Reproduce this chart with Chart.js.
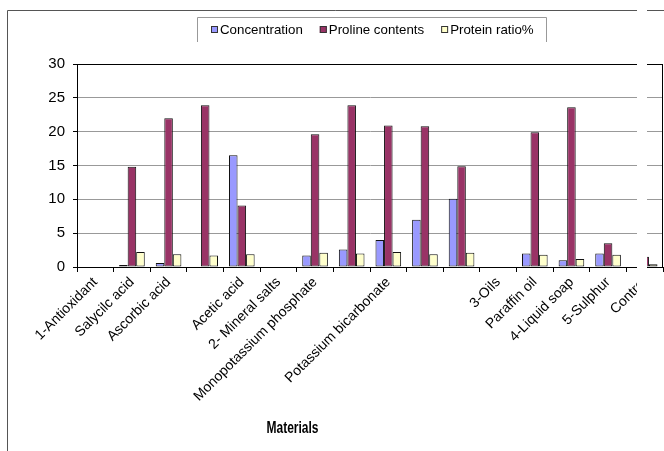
<!DOCTYPE html>
<html>
<head>
<meta charset="utf-8">
<script src="https://cdn.jsdelivr.net/npm/chart.js@4"></script>
<style>
  html, body { margin: 0; padding: 0; background: #fff; }
  canvas { display: block; }
</style>
</head>
<body>
<canvas id="materialsChart" width="664" height="451"></canvas>
<script>
// Materials on the x axis (empty strings are rows without a name)
const materials = [
    '1-Antioxidant', 'Salycilc acid', 'Ascorbic acid', '', 'Acetic acid',
    '2- Mineral salts', 'Monopotassium phosphate', '', 'Potassium bicarbonate',
    '', '', '3-Oils', 'Paraffin oil', '4-Liquid soap', '5-Sulphur', 'Control'
];

const concentration   = [null, 0.3, 0.6, null, 16.5, null, 1.7, 2.6, 4.0, 7.0, 10.1, null, 2.0, 1.0, 2.0, null];
const prolineContents = [null, 14.8, 22.0, 23.9, 9.1, null, 19.6, 23.9, 20.9, 20.8, 14.9, null, 19.9, 23.6, 3.5, 1.5];
const proteinRatio    = [null, 2.2, 1.9, 1.7, 1.9, null, 2.1, 2.0, 2.2, 1.9, 2.1, null, 1.8, 1.2, 1.8, 0.4];

const yTickValues = [0, 5, 10, 15, 20, 25, 30];

const FONT = "'Liberation Sans', Arial, sans-serif";
Chart.defaults.font.family = FONT;
Chart.defaults.color = '#000';

// White page with the thin frame on the top and left
const framePlugin = {
    id: 'frame',
    beforeDraw(chart) {
        const ctx = chart.ctx;
        ctx.save();
        ctx.fillStyle = '#fff';
        ctx.fillRect(0, 0, chart.width, chart.height);
        ctx.strokeStyle = '#555';
        ctx.lineWidth = 1;
        ctx.beginPath();
        ctx.moveTo(7.5, chart.height);
        ctx.lineTo(7.5, 10.5);
        ctx.lineTo(chart.width, 10.5);
        ctx.stroke();
        ctx.restore();
    },
    afterDatasetsDraw(chart) {
        // plot area border
        const a = chart.chartArea;
        const ctx = chart.ctx;
        ctx.save();
        ctx.strokeStyle = '#000';
        ctx.lineWidth = 1;
        ctx.strokeRect(Math.round(a.left) + 0.5, Math.round(a.top) + 0.5,
            Math.round(a.right - a.left) - 1, Math.round(a.bottom - a.top));
        ctx.restore();
    }
};

// Legend in an open-bottomed box above the plot
const legendBoxPlugin = {
    id: 'legendBox',
    afterDraw(chart) {
        const ctx = chart.ctx;
        const a = chart.chartArea;
        const sets = chart.data.datasets;
        const box = 7, gap = 2, spacing = 17, padL = 14, padR = 12;
        ctx.save();
        ctx.font = '13.3px ' + FONT;
        const widths = sets.map(ds => box + gap + ctx.measureText(ds.label).width);
        const total = widths.reduce((s, w) => s + w, 0) + spacing * (sets.length - 1);
        let x = Math.round((a.left + a.right) / 2 + 2 - total / 2);
        const left = x - padL, right = Math.round(x + total + padR);

        ctx.strokeStyle = '#999';
        ctx.lineWidth = 1;
        ctx.beginPath();
        ctx.moveTo(left + 0.5, 42);
        ctx.lineTo(left + 0.5, 17.5);
        ctx.lineTo(right + 0.5, 17.5);
        ctx.lineTo(right + 0.5, 42);
        ctx.stroke();

        ctx.textBaseline = 'middle';
        ctx.textAlign = 'left';
        sets.forEach((ds, i) => {
            ctx.fillStyle = ds.backgroundColor;
            ctx.fillRect(x, 26, box, box);
            ctx.strokeStyle = '#333';
            ctx.strokeRect(x + 0.5, 26.5, box - 1, box - 1);
            ctx.fillStyle = '#000';
            ctx.fillText(ds.label, x + box + gap, 30);
            x += widths[i] + spacing;
        });
        ctx.restore();
    }
};

// Axis title and the blank strip near the right edge
const overlayPlugin = {
    id: 'overlay',
    afterDraw(chart) {
        const ctx = chart.ctx;
        ctx.save();
        ctx.font = 'bold 16px ' + FONT;
        ctx.fillStyle = '#000';
        ctx.textAlign = 'center';
        ctx.textBaseline = 'alphabetic';
        // narrow bold face
        ctx.translate(292.5, 433);
        ctx.scale(0.75, 1);
        ctx.fillText('Materials', 0, 0);
        ctx.restore();

        ctx.save();
        ctx.fillStyle = '#fff';
        ctx.fillRect(637, 0, 10, chart.height);
        ctx.restore();
    }
};

new Chart(document.getElementById('materialsChart'), {
    type: 'bar',
    data: {
        labels: materials,
        datasets: [
            {
                label: 'Concentration',
                data: concentration,
                backgroundColor: '#9999FF'
            },
            {
                label: 'Proline contents',
                data: prolineContents,
                backgroundColor: '#993366'
            },
            {
                label: 'Protein ratio%',
                data: proteinRatio,
                backgroundColor: '#FFFFCC'
            }
        ]
    },
    options: {
        responsive: false,
        animation: false,
        devicePixelRatio: 1,
        layout: {
            padding: { top: 64, right: 1, bottom: 0, left: 0 }
        },
        datasets: {
            bar: {
                borderColor: '#111',
                borderWidth: 1,
                borderSkipped: false,
                categoryPercentage: 0.7,
                barPercentage: 1.0
            }
        },
        plugins: {
            legend: { display: false },
            tooltip: { enabled: false }
        },
        scales: {
            x: {
                grid: {
                    offset: true,
                    drawOnChartArea: false,
                    drawTicks: true,
                    tickLength: 5,
                    tickColor: '#000'
                },
                border: { color: '#000' },
                ticks: {
                    autoSkip: false,
                    minRotation: 45,
                    maxRotation: 45,
                    padding: 2,
                    font: { size: 14 }
                },
                afterFit(scale) { scale.height = 184; }
            },
            y: {
                min: 0,
                max: 30,
                afterBuildTicks(axis) {
                    axis.ticks = yTickValues.map(v => ({ value: v }));
                },
                grid: {
                    color: '#999',
                    tickLength: 4,
                    tickColor: '#000'
                },
                border: { color: '#000' },
                ticks: {
                    padding: 8,
                    font: { size: 15 }
                },
                afterFit(scale) { scale.width = 77; }
            }
        }
    },
    plugins: [framePlugin, legendBoxPlugin, overlayPlugin]
});
</script>
</body>
</html>
